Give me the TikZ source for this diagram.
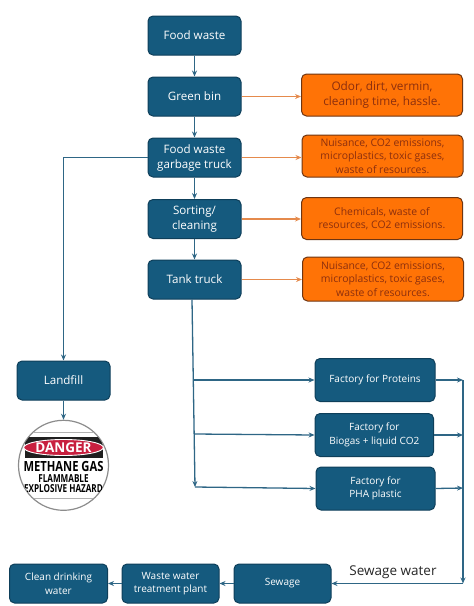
\documentclass[tikz,border=0pt]{standalone}
\usepackage{fontspec}
\setmainfont{Open Sans}
\usetikzlibrary{arrows.meta,shapes.geometric}
\definecolor{boxblue}{HTML}{155A7E}
\definecolor{boxedge}{HTML}{0E3F5A}
\definecolor{linkblue}{HTML}{2E6685}
\definecolor{hotorange}{HTML}{FF7306}
\definecolor{hotedge}{HTML}{6E3512}
\definecolor{hottext}{HTML}{8C2F0E}
\definecolor{linkorange}{HTML}{E58A4C}
\definecolor{signred}{HTML}{C8203F}
\tikzset{
  flowbox/.style={draw=boxedge, line width=1pt, fill=boxblue, rounded corners=5pt,
    text=white, align=center, inner sep=0pt, minimum width=93pt, minimum height=39pt,
    font=\fontsize{11.6}{15}\selectfont},
  lowbox/.style={flowbox, font=\fontsize{10}{13.5}\selectfont},
  factorybox/.style={flowbox, minimum width=119pt, minimum height=43pt,
    font=\fontsize{10}{13.5}\selectfont},
  hotbox/.style={draw=hotedge, line width=1pt, fill=hotorange, rounded corners=5pt,
    text=hottext, align=center, inner sep=0pt, minimum width=161pt, minimum height=42pt,
    font=\fontsize{10.4}{13.3}\selectfont},
  link/.style={draw=linkblue, line width=1.3pt, -{Stealth[length=6pt,width=5pt]}},
  hotlink/.style={draw=linkorange, line width=1.3pt, -{Stealth[length=6pt,width=5pt]}},
  signtext/.style={inner sep=0pt, font=\fontsize{#1}{#1}\bfseries\selectfont},
}
\begin{document}
\begin{tikzpicture}[x=1pt, y=-1pt]
  \useasboundingbox (0,0) rectangle (474,606);

  % ----- main chain -----
  \node[flowbox] (food) at (194.5,35.5) {Food waste};
  \node[flowbox] (bin) at (194.5,96.5) {Green bin};
  \node[flowbox] (garbage) at (194.5,157.5) {Food waste\\garbage truck};
  \node[flowbox] (sorting) at (194.5,219) {Sorting/\\cleaning};
  \node[flowbox] (tank) at (194.5,279.5) {Tank truck};
  \draw[link] (food) -- (bin);
  \draw[link] (bin) -- (garbage);
  \draw[link] (garbage) -- (sorting);
  \draw[link] (sorting) -- (tank);

  % ----- side effects -----
  \node[hotbox, font=\fontsize{11.8}{15.5}\selectfont] (odor) at (382,95)
    {Odor, dirt, vermin,\\cleaning time, hassle.};
  \node[hotbox] (nuisance) at (382.5,156)
    {Nuisance, CO2 emissions,\\microplastics, toxic gases,\\waste of resources.};
  \node[hotbox] (chemicals) at (382,218.5)
    {Chemicals, waste of\\resources, CO2 emissions.};
  \node[hotbox, minimum height=44pt] (nuisancetwo) at (383,279)
    {Nuisance, CO2 emissions,\\microplastics, toxic gases,\\waste of resources.};
  \draw[hotlink] (bin) -- (bin -| odor.west);
  \draw[hotlink] (garbage) -- (garbage -| nuisance.west);
  \draw[hotlink] (sorting) -- (sorting -| chemicals.west);
  \draw[hotlink] (tank) -- (tank -| nuisancetwo.west);

  % ----- landfill -----
  \node[flowbox] (landfill) at (63.5,380.5) {Landfill};
  \coordinate (turn) at (landfill.north |- garbage.west);
  \draw[link] (garbage.west) -- (turn) -- (landfill.north);
  \node[circle, draw=black!45, line width=1.2pt, fill=white, minimum size=90pt, inner sep=0pt]
    (sign) at (63.5,465.3) {};
  \draw[link] (landfill) -- (sign);
  \begin{scope}
    \clip (sign.center) circle (44.5);
    \draw[black!30, line width=0.5pt] (15,432) -- (112,432) (15,498) -- (112,498);
    \fill[black!88] (24.5,437) rectangle (102.5,457.5);
    \node[ellipse, fill=signred, draw=white, line width=0.9pt, minimum width=75pt, minimum height=16pt,
      inner sep=0pt, text=white, signtext=13.5] (danger) at (63.5,447.5) {DANGER};
    \node[signtext=14] (methane) at (63.5,466.5) {\scalebox{0.8}[1]{METHANE GAS}};
    \node[signtext=11] (flammable) at (63.5,478.5) {\scalebox{0.74}[1]{FLAMMABLE}};
    \node[signtext=11] (hazard) at (63.5,489) {\scalebox{0.74}[1]{EXPLOSIVE HAZARD}};
  \end{scope}

  % ----- factories -----
  \node[factorybox, minimum width=120pt] (proteins) at (375,380) {Factory for Proteins};
  \node[factorybox, minimum width=118.5pt] (biogas) at (374.3,435) {Factory for\\Biogas + liquid CO2};
  \node[factorybox] (pha) at (375.5,488.5) {Factory for\\PHA plastic};
  \coordinate (trunk) at (195,487);
  \coordinate (branchp) at (194,380);
  \coordinate (branchb) at (194.5,434);
  \draw[link] ([xshift=-2.5pt]tank.south) -- (trunk);
  \draw[link] (branchp) -- (proteins.west);
  \draw[link] (branchb) -- (biogas.west);
  \draw[link] (trunk) -- (pha.west);

  % ----- sewage line -----
  \node[lowbox, minimum width=97pt] (sewage) at (282.5,583.5) {Sewage};
  \node[lowbox, minimum width=97pt] (plant) at (170.5,583.5) {Waste water\\treatment plant};
  \node[lowbox, minimum width=98pt] (clean) at (58.5,583.5) {Clean drinking\\water};
  \coordinate (collectp) at (463,380);
  \coordinate (collectb) at (463,435);
  \coordinate (collectf) at (463,488);
  \coordinate (corner) at (463,583.5);
  \draw[link] (proteins.east) -- (collectp);
  \draw[link] (biogas.east) -- (collectb);
  \draw[link] (pha.east) -- (collectf);
  \draw[link] (collectp) -- (corner);
  \draw[link] (corner) -- (sewage.east);
  \draw[link] (sewage) -- (plant);
  \draw[link] (plant) -- (clean);
  \node[font=\fontsize{13.5}{16}\selectfont, text=black!85, inner sep=0pt] (sewagewater) at (393,572.5) {Sewage water};
\end{tikzpicture}
\end{document}
